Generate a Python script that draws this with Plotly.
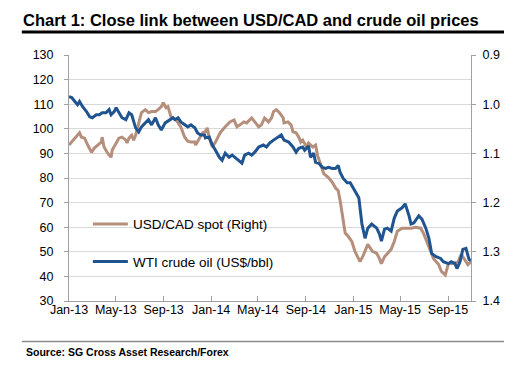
import plotly.graph_objects as go

# ---- data ----
wti_dates = ["2013-01-01","2013-01-08","2013-01-16","2013-01-23","2013-01-28","2013-02-05","2013-02-15","2013-02-23",
    "2013-03-02","2013-03-12","2013-03-20","2013-03-27","2013-04-06","2013-04-14","2013-04-19","2013-04-27",
    "2013-05-02","2013-05-09","2013-05-17","2013-05-27","2013-06-04","2013-06-11","2013-06-21","2013-06-29",
    "2013-07-06","2013-07-16","2013-07-24","2013-08-01","2013-08-11","2013-08-18","2013-08-26","2013-09-05",
    "2013-09-18","2013-09-25","2013-09-30","2013-10-08","2013-10-15","2013-10-25","2013-11-02","2013-11-10",
    "2013-11-20","2013-11-27","2013-12-05","2013-12-15","2013-12-17","2013-12-27","2014-01-04","2014-01-12",
    "2014-01-22","2014-01-29","2014-02-06","2014-02-16","2014-02-24","2014-03-03","2014-03-13","2014-03-21",
    "2014-03-28","2014-04-07","2014-04-15","2014-04-23","2014-05-03","2014-05-15","2014-05-23","2014-05-31",
    "2014-06-10","2014-06-17","2014-06-22","2014-06-30","2014-07-07","2014-07-19","2014-07-30","2014-08-07",
    "2014-08-14","2014-08-24","2014-08-29","2014-09-08","2014-09-13","2014-09-21","2014-09-26","2014-10-04",
    "2014-10-14","2014-10-22","2014-10-29","2014-11-08","2014-11-16","2014-11-23","2014-11-28","2014-12-06",
    "2014-12-16","2014-12-24","2014-12-31","2015-01-10","2015-01-15","2015-01-23","2015-01-31","2015-02-07",
    "2015-02-17","2015-03-02","2015-03-09","2015-03-14","2015-03-22","2015-03-29","2015-04-08","2015-04-16",
    "2015-04-24","2015-05-06","2015-05-14","2015-05-24","2015-05-29","2015-06-05","2015-06-18","2015-06-26",
    "2015-07-06","2015-07-14","2015-07-21","2015-07-31","2015-08-13","2015-08-20","2015-09-02","2015-09-09",
    "2015-09-19","2015-09-24","2015-10-02","2015-10-09","2015-10-17","2015-10-25","2015-10-30"]
wti_values = [113.1,112.7,111.1,109.8,111.1,109.0,107.0,104.9,
    104.5,105.7,105.7,106.5,106.5,107.8,105.7,107.0,
    108.6,106.5,104.5,103.7,106.5,105.7,100.4,98.7,
    100.8,102.4,103.7,101.6,104.5,101.6,99.5,102.4,
    103.7,104.5,103.7,104.5,102.8,101.6,100.8,101.6,
    100.4,98.3,97.5,97.5,96.3,96.7,93.4,91.3,
    88.4,87.2,90.1,88.4,89.3,88.4,87.2,86.0,
    89.3,90.1,89.3,90.5,92.6,93.4,92.6,94.2,
    95.4,96.3,96.7,97.5,95.4,94.6,92.6,90.5,
    92.1,92.6,91.3,93.0,88.4,90.1,86.4,86.0,
    84.3,83.9,84.3,83.9,83.9,85.1,82.3,79.8,
    78.1,78.1,76.1,73.6,72.0,61.3,55.5,59.6,
    61.3,59.6,57.2,54.3,59.2,59.6,58.4,63.7,
    66.6,67.9,69.5,64.6,61.3,61.7,64.6,63.3,
    59.6,55.5,49.3,48.1,47.3,46.0,45.2,46.0,
    45.2,43.2,46.0,51.0,51.4,46.9,46.5]

cad_dates = ["2013-01-01","2013-01-08","2013-01-16","2013-01-23","2013-01-28","2013-02-02","2013-02-10","2013-02-18",
    "2013-02-28","2013-03-07","2013-03-15","2013-03-25","2013-03-27","2013-04-01","2013-04-09","2013-04-19",
    "2013-04-22","2013-05-02","2013-05-09","2013-05-17","2013-05-27","2013-05-30","2013-06-04","2013-06-11",
    "2013-06-16","2013-06-21","2013-06-29","2013-07-06","2013-07-16","2013-07-24","2013-08-01","2013-08-11",
    "2013-08-18","2013-08-26","2013-08-31","2013-09-07","2013-09-12","2013-09-20","2013-10-03","2013-10-15",
    "2013-10-25","2013-11-02","2013-11-10","2013-11-20","2013-11-22","2013-12-02","2013-12-10","2013-12-17",
    "2013-12-22","2013-12-27","2014-01-04","2014-01-12","2014-01-24","2014-02-06","2014-02-18","2014-03-01",
    "2014-03-08","2014-03-16","2014-03-26","2014-04-02","2014-04-15","2014-04-23","2014-05-03","2014-05-10",
    "2014-05-18","2014-05-28","2014-06-05","2014-06-10","2014-06-17","2014-06-25","2014-07-05","2014-07-07",
    "2014-07-17","2014-07-25","2014-07-30","2014-08-07","2014-08-14","2014-08-19","2014-08-24","2014-09-03",
    "2014-09-08","2014-09-19","2014-09-26","2014-10-01","2014-10-09","2014-10-17","2014-10-29","2014-11-08",
    "2014-11-16","2014-11-23","2014-11-28","2014-12-03","2014-12-11","2014-12-18","2014-12-28","2015-01-05",
    "2015-01-10","2015-01-18","2015-01-25","2015-02-04","2015-02-07","2015-02-19","2015-03-02","2015-03-09",
    "2015-03-14","2015-03-22","2015-03-29","2015-04-08","2015-04-16","2015-04-24","2015-05-06","2015-05-29",
    "2015-06-10","2015-06-23","2015-07-01","2015-07-08","2015-07-18","2015-07-26","2015-08-08","2015-08-15",
    "2015-08-25","2015-09-02","2015-09-14","2015-09-27","2015-10-05","2015-10-15","2015-10-22","2015-10-30"]
cad_values = [1.083,1.077,1.069,1.063,1.058,1.067,1.069,1.083,
    1.098,1.089,1.083,1.077,1.067,1.087,1.098,1.108,
    1.093,1.077,1.069,1.067,1.073,1.079,1.069,1.063,
    1.073,1.063,1.036,1.017,1.011,1.017,1.015,1.015,
    1.011,1.005,0.997,1.007,1.005,1.026,1.032,1.046,
    1.067,1.075,1.077,1.077,1.083,1.069,1.058,1.056,
    1.048,1.069,1.087,1.077,1.058,1.046,1.036,1.032,
    1.046,1.042,1.036,1.038,1.028,1.036,1.046,1.042,
    1.028,1.036,1.028,1.015,1.011,1.017,1.028,1.038,
    1.036,1.042,1.056,1.058,1.067,1.077,1.073,1.087,
    1.079,1.087,1.083,1.104,1.124,1.141,1.149,1.159,
    1.170,1.176,1.196,1.221,1.262,1.268,1.279,1.299,
    1.307,1.320,1.310,1.293,1.285,1.299,1.303,1.314,
    1.324,1.310,1.303,1.295,1.279,1.258,1.252,1.252,
    1.250,1.252,1.264,1.279,1.299,1.314,1.326,1.340,
    1.347,1.324,1.324,1.320,1.305,1.316,1.326,1.320]

x_tick_vals = ["2013-01-01","2013-05-01","2013-09-01","2014-01-01","2014-05-01","2014-09-01",
               "2015-01-01","2015-05-01","2015-09-01"]
x_tick_text = ["Jan-13","May-13","Sep-13","Jan-14","May-14","Sep-14","Jan-15","May-15","Sep-15"]

TITLE = "Chart 1: Close link between USD/CAD and crude oil prices"
SOURCE = "Source: SG Cross Asset Research/Forex"

BROWN = "#b58f7b"
BLUE = "#1f5490"
FONT = "Liberation Sans, Arial, sans-serif"

fig = go.Figure()
fig.add_trace(go.Scatter(x=cad_dates, y=cad_values, name="USD/CAD spot (Right)", mode="lines",
                         line=dict(color=BROWN, width=3), yaxis="y", legendgroup="a"))
fig.add_trace(go.Scatter(x=wti_dates, y=wti_values, name="WTI crude oil (US$/bbl)", mode="lines",
                         line=dict(color=BLUE, width=3), yaxis="y2", legendgroup="b"))

# The page's body has an 8px default margin, so the figure is 8px smaller than the window.
fig.update_layout(
    width=504, height=366,
    margin=dict(l=61, r=34, t=47, b=73),
    paper_bgcolor="white", plot_bgcolor="white",
    font=dict(family=FONT, size=12.5, color="#000"),
    showlegend=True,
    legend=dict(x=0.047, y=0.375, xanchor="left", yanchor="top", bgcolor="rgba(0,0,0,0)",
                font=dict(size=13.5, color="#000"), tracegroupgap=17, traceorder="grouped",
                itemwidth=35),
    xaxis=dict(type="date", range=["2013-01-01", "2015-10-30"], tickvals=x_tick_vals, ticktext=x_tick_text,
               showgrid=False, showline=True, linecolor="#a0a0a0", linewidth=1,
               ticks="inside", ticklen=5, tickcolor="#a0a0a0", anchor="y", zeroline=False,
               ticklabelstandoff=-3),
    yaxis=dict(side="right", range=[1.4, 0.9], tickvals=[0.9, 1.0, 1.1, 1.2, 1.3, 1.4],
               ticktext=["0.9", "1.0", "1.1", "1.2", "1.3", "1.4"],
               showgrid=False, showline=True, linecolor="#a0a0a0", linewidth=1,
               ticks="outside", ticklen=4, tickcolor="#a0a0a0", zeroline=False,
               ticklabelstandoff=4),
    yaxis2=dict(side="left", overlaying="y", range=[30, 130], dtick=10, tick0=30,
                showgrid=True, gridcolor="#d9d9d9", gridwidth=1,
                showline=True, linecolor="#a0a0a0", linewidth=1,
                ticks="outside", ticklen=4, tickcolor="#a0a0a0", zeroline=False,
                ticklabelstandoff=8),
)

fig.add_annotation(text="<b>" + TITLE + "</b>", xref="paper", yref="paper",
                   x=(20 - 69) / 409, y=(301 - 20) / 246, xanchor="left", yanchor="middle",
                   showarrow=False, font=dict(size=16.5, color="#000", family=FONT))
fig.add_shape(type="line", xref="paper", yref="paper", x0=(21 - 69) / 409, x1=(520 - 69) / 409,
              y0=(301 - 32) / 246, y1=(301 - 32) / 246, line=dict(color="#000", width=3))
fig.add_shape(type="line", xref="paper", yref="paper", x0=(21 - 69) / 409, x1=(520 - 69) / 409,
              y0=(301 - 341.5) / 246, y1=(301 - 341.5) / 246, line=dict(color="#8a8a8a", width=1.5))
fig.add_annotation(text="<b>" + SOURCE + "</b>", xref="paper", yref="paper",
                   x=(23 - 69) / 409, y=(301 - 352) / 246, xanchor="left", yanchor="middle",
                   showarrow=False, font=dict(size=10.5, color="#000", family=FONT))

fig.write_html("out.html")
